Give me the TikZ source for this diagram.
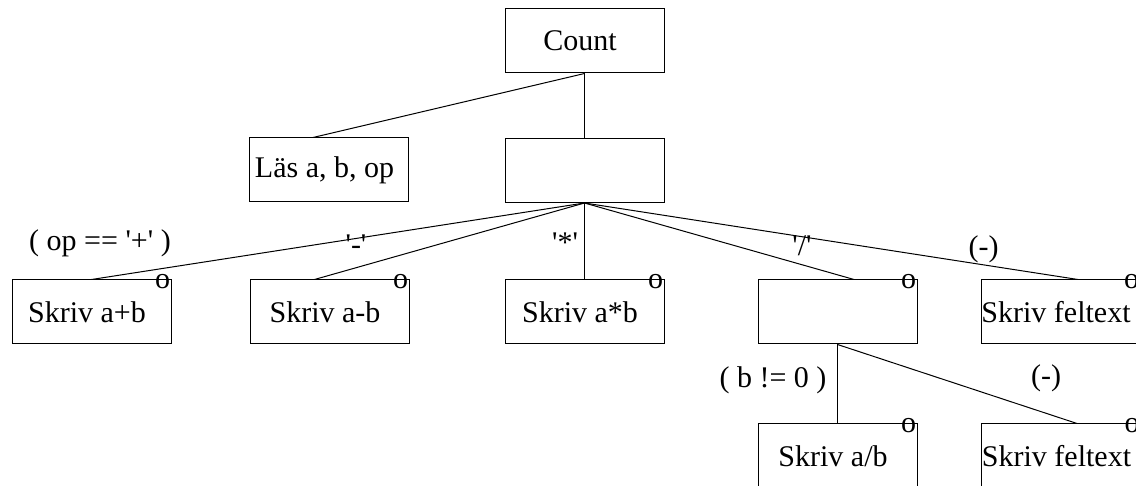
\documentclass[tikz,border=0pt]{standalone}
\usepackage{fontspec}
\setmainfont{Liberation Serif}
\usetikzlibrary{calc}
\newcommand{\qmark}{\textquotesingle}

\begin{document}
\begin{tikzpicture}[x=0.5pt,y=-0.5pt,line width=0.5pt,
    box/.style={draw,minimum width=79.5pt,minimum height=32pt,inner sep=0pt,font=\fontsize{15}{18}\selectfont,
        execute at end node={\hspace{4.5pt}}},
    lbl/.style={inner sep=0pt,font=\fontsize{15}{18}\selectfont},
    omark/.style={inner sep=0pt,font=\fontsize{15}{18}\selectfont}]
    \useasboundingbox (0,0) rectangle (1136,486);
    \clip (0,0) rectangle (1136,486);
    \node[box] (count) at (584.5,41) {Count};
    \node[box] (read) at (329,170) {Läs a, b, op};
    \node[box] (sel) at (584.5,170.5) {};
    \node[box] (plus) at (91.5,312) {Skriv a+b};
    \node[box] (minus) at (329.5,312) {Skriv a-b};
    \node[box] (mult) at (584.5,312) {Skriv a*b};
    \node[box] (div) at (837.5,312) {};
    \node[box] (err) at (1060.5,312) {Skriv feltext};
    \node[box] (quot) at (837.5,456) {Skriv a/b};
    \node[box] (errb) at (1061,456) {Skriv feltext};
    \draw (count.south) -- ($(read.north)+(-16,0)$);
    \draw (count.south) -- (sel.north);
    \foreach \n/\d in {plus/0,minus/-15,mult/0,div/16.5,err/17.5}
    {
        \draw (sel.south) -- ($(\n.north)+(\d,0)$);
    }
    \draw (div.south) -- (quot.north);
    \draw (div.south) -- ($(errb.north)+(16,0)$);
    \foreach \n in {plus,minus,mult,div,err,quot,errb}
        \node[omark] at ($(\n.north east)+(-9,2)$) {o};
    \node[lbl] (lplus) at (100,243.5) {( op == \qmark+\qmark{} )};
    \node[lbl] (lminus) at (356,245) {\qmark-\qmark};
    \node[lbl] (lmult) at (565,243) {\qmark*\qmark};
    \node[lbl] (ldiv) at (802,246) {\qmark/\qmark};
    \node[lbl] (lelse) at (983.5,249) {(-)};
    \node[lbl] (lnonzero) at (773,380) {( b != 0 )};
    \node[lbl] (lzero) at (1046,378) {(-)};
\end{tikzpicture}
\end{document}
